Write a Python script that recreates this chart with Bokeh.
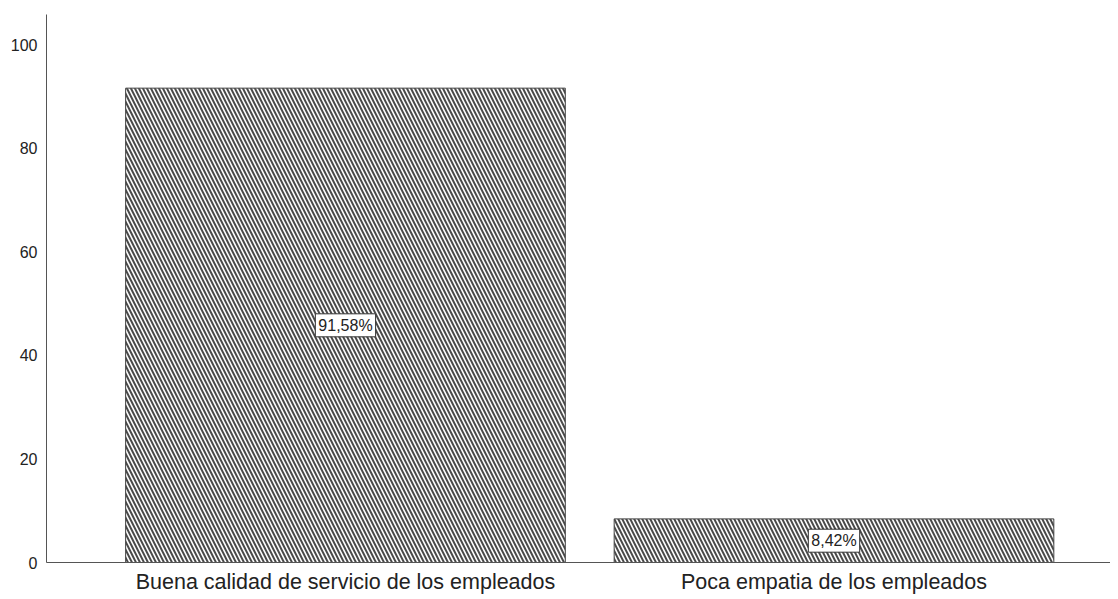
from bokeh.plotting import figure
from bokeh.models import Range1d, FixedTicker, ColumnDataSource
from bokeh.core.properties import value
from bokeh.embed import file_html
from bokeh.resources import INLINE

categories = ["Buena calidad de servicio de los empleados", "Poca empatia de los empleados"]
percentages = [91.58, 8.42]
percent_labels = ["91,58%", "8,42%"]
y_ticks = [0, 20, 40, 60, 80, 100]

xs = list(range(len(categories)))
src = ColumnDataSource(dict(
    x=xs,
    top=percentages,
    mid=[v / 2 for v in percentages],
    lab=percent_labels,
))

p = figure(
    output_backend="svg", toolbar_location=None,
    frame_width=1064, frame_height=548,
    min_border_left=46, min_border_right=0, min_border_top=14, min_border_bottom=4,
    x_range=Range1d(-0.612, 1.566), y_range=Range1d(0, 105.8),
    background_fill_color="white", border_fill_color="white",
)
p.outline_line_color = None
p.grid.visible = False

p.vbar(x="x", top="top", bottom=0, width=0.90, source=src,
       fill_color="white", line_color="#444444", line_width=1,
       hatch_pattern="\\", hatch_scale=8, hatch_weight=2, hatch_color="#4a4a4a")

p.text(x="x", y="mid", text="lab", source=src,
       text_align="center", text_baseline="middle",
       text_font=value("Liberation Sans"), text_font_size="16px", text_color="#222222",
       background_fill_color="white", border_line_color="#333333", border_line_width=1,
       padding=3)

# axes
p.yaxis.ticker = FixedTicker(ticks=y_ticks)
p.yaxis.major_tick_line_color = None
p.yaxis.minor_tick_line_color = None
p.yaxis.major_tick_out = 0
p.yaxis.major_label_standoff = 9
p.yaxis.major_label_text_font = "Liberation Sans"
p.yaxis.major_label_text_font_size = "16px"
p.yaxis.major_label_text_color = "#222222"
p.yaxis.axis_line_color = "#555555"

p.xaxis.ticker = FixedTicker(ticks=xs)
p.xaxis.major_label_overrides = {i: c for i, c in enumerate(categories)}
p.xaxis.major_tick_line_color = None
p.xaxis.minor_tick_line_color = None
p.xaxis.major_tick_out = 0
p.xaxis.major_label_standoff = 7
p.xaxis.major_label_text_font = "Liberation Sans"
p.xaxis.major_label_text_font_size = "21.5px"
p.xaxis.major_label_text_color = "#222222"
p.xaxis.axis_line_color = "#555555"

open("out.html", "w").write(file_html(p, INLINE))
